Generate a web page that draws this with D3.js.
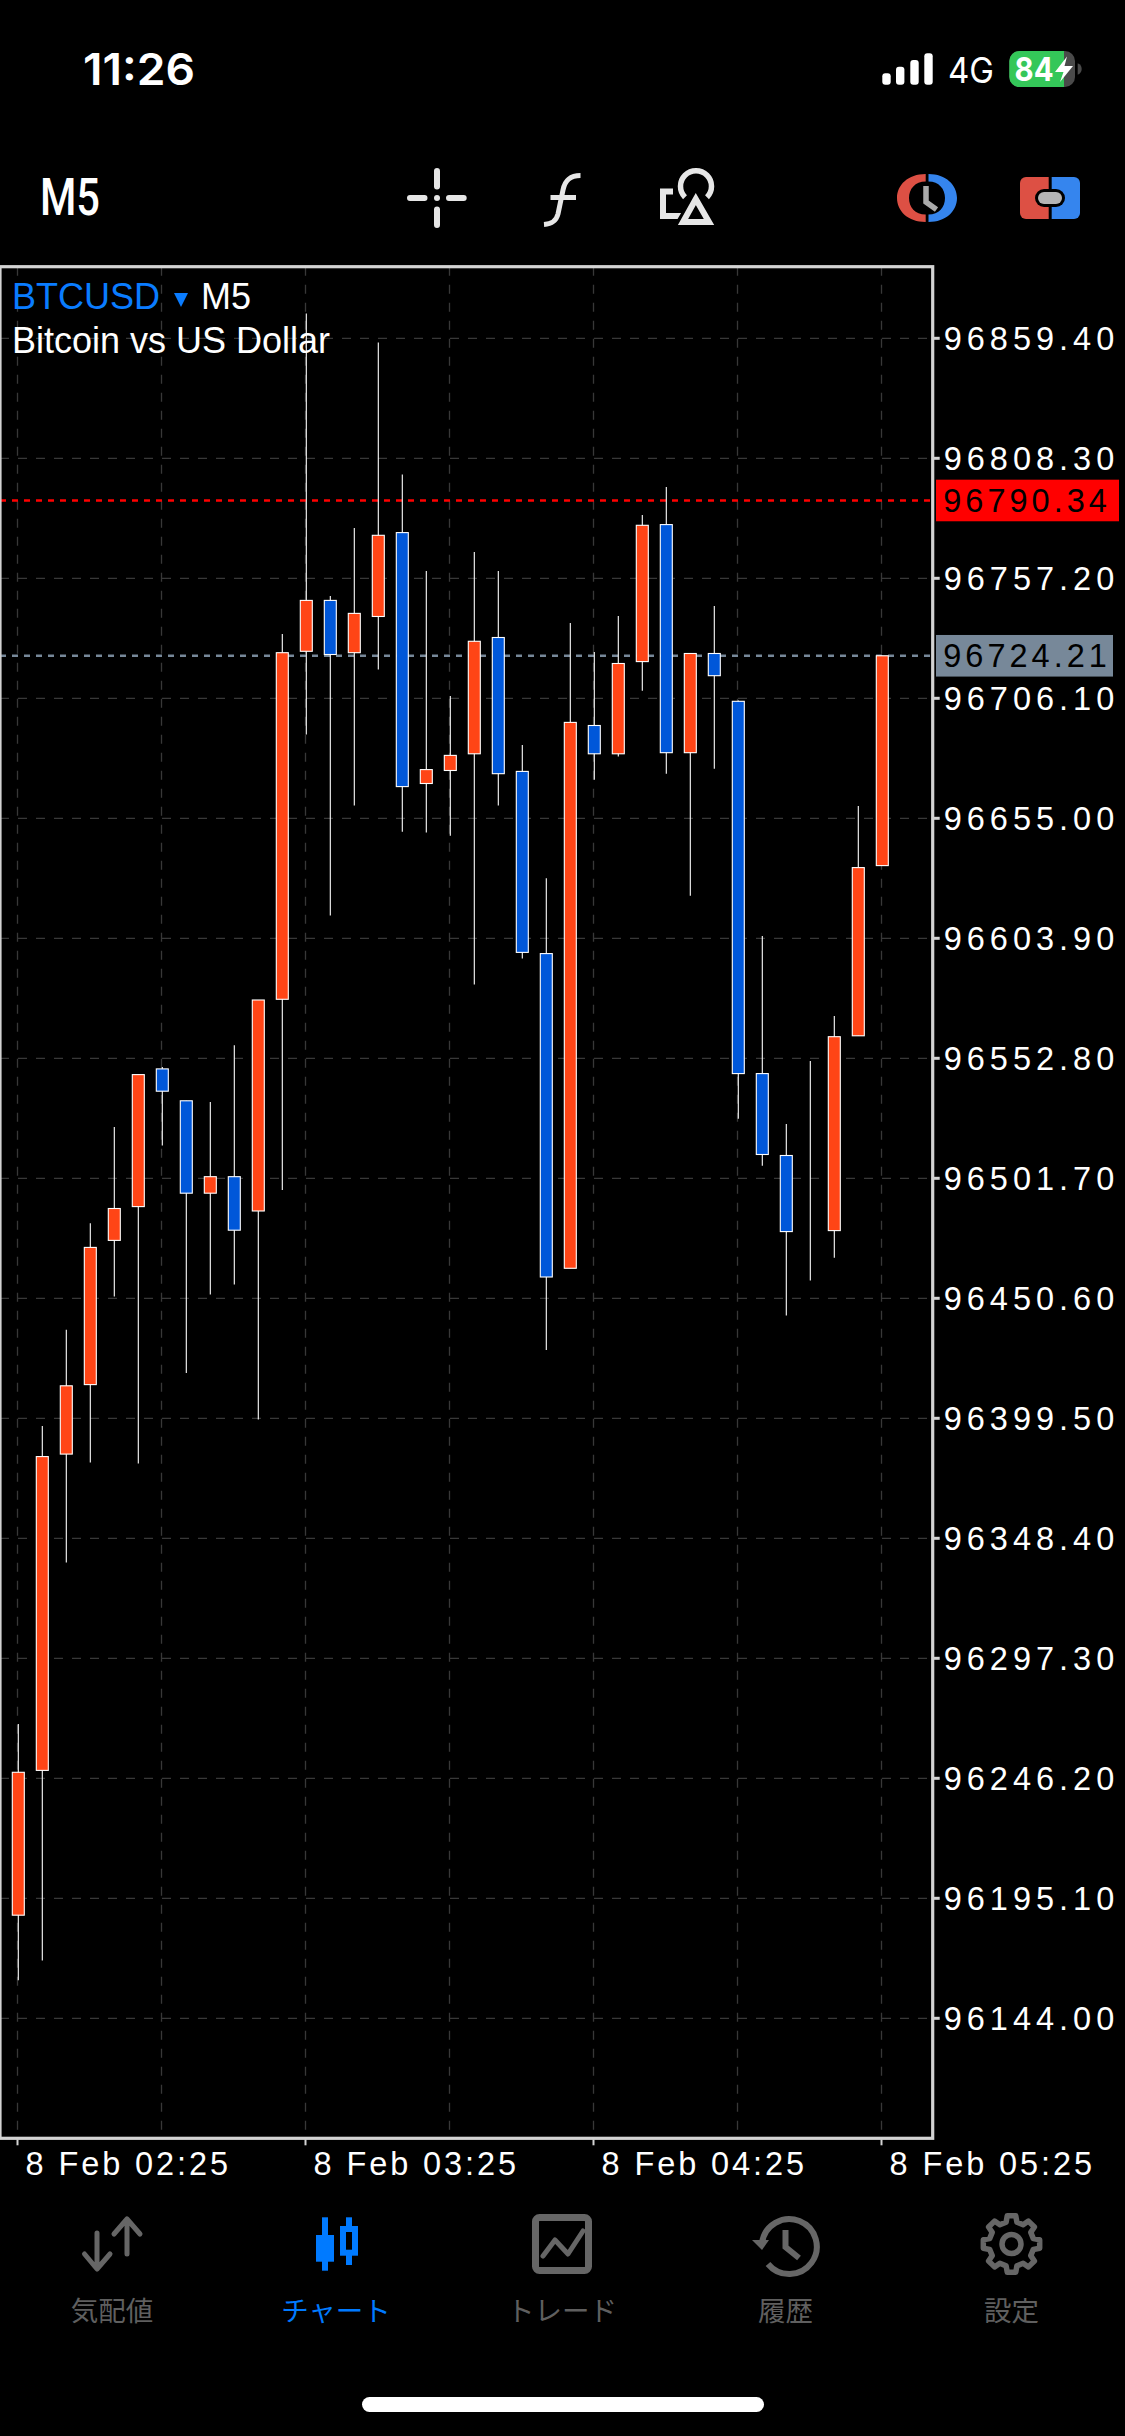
<!DOCTYPE html>
<html><head><meta charset="utf-8">
<style>
html,body{margin:0;padding:0;background:#000;overflow:hidden}
svg{display:block}
.sans{font-family:"Liberation Sans",Arimo,sans-serif}
.axis text{font-family:"Liberation Sans",sans-serif;font-size:32.5px;fill:#fff}
.yaxis text{letter-spacing:5px}
.xaxis text{letter-spacing:2.9px}
.tab{font-family:"Noto Sans CJK JP",sans-serif;font-size:27.5px;text-anchor:middle}
</style>
<script src="https://cdn.jsdelivr.net/npm/d3@7/dist/d3.min.js"></script>
</head><body><div id="c"></div>
<script>
const times=["02:25","02:30","02:35","02:40","02:45","02:50","02:55","03:00","03:05","03:10","03:15","03:20","03:25","03:30","03:35","03:40","03:45","03:50","03:55","04:00","04:05","04:10","04:15","04:20","04:25","04:30","04:35","04:40","04:45","04:50","04:55","05:00","05:05","05:10","05:15","05:20","05:25"];
const opens=[96187.91,96249.57,96384.26,96413.85,96475.26,96489.65,96548.29,96534.71,96495.36,96502.39,96487.78,96577.93,96726.12,96747.79,96725.52,96740.94,96776.66,96669.82,96675.36,96682.47,96731.99,96674.97,96597.39,96463.38,96694.52,96682.47,96721.73,96780.07,96682.94,96725.18,96704.82,96546.29,96511.41,96479.43,96479.43,96562.39,96634.86];
const highs=[96269.37,96396.23,96437.23,96482.58,96523.59,96545.86,96549.10,96534.71,96534.20,96558.34,96577.63,96733.52,96870.00,96749.67,96778.58,96857.66,96801.36,96760.31,96707.08,96768.36,96760.35,96686.22,96629.49,96738.21,96725.82,96741.15,96784.16,96796.04,96725.18,96745.36,96705.20,96604.93,96524.83,96551.65,96570.86,96660.24,96724.21];
const lows=[96160.23,96168.62,96338.10,96380.72,96451.32,96380.21,96515.71,96418.75,96452.18,96456.52,96398.95,96496.72,96690.73,96613.57,96660.50,96718.33,96649.30,96648.91,96647.59,96584.19,96660.46,96595.26,96428.59,96463.38,96671.40,96681.32,96709.34,96674.00,96622.00,96676.12,96527.08,96507.07,96443.28,96458.14,96467.85,96562.39,96634.86];
const closes=[96248.76,96383.20,96413.34,96472.27,96488.84,96545.86,96538.79,96495.36,96502.39,96479.60,96577.63,96725.52,96747.79,96724.75,96742.26,96775.51,96668.50,96675.74,96681.79,96730.38,96674.00,96597.90,96459.67,96695.84,96682.47,96720.92,96779.77,96682.94,96725.18,96715.73,96546.29,96511.84,96479.01,96479.43,96562.00,96634.01,96724.21];
const priceTicks=[96859.40,96808.30,96757.20,96706.10,96655.00,96603.90,96552.80,96501.70,96450.60,96399.50,96348.40,96297.30,96246.20,96195.10,96144.00];
const timeTicks=["02:25","03:25","04:25","05:25"];
const gridTimes=["02:25","02:55","03:25","03:55","04:25","04:55","05:25"];
const askPrice=96790.34, bidPrice=96724.21;
const tabs=["気配値","チャート","トレード","履歴","設定"];

const candles=times.map((t,i)=>({t,o:opens[i],h:highs[i],l:lows[i],c:closes[i]}));
const W=1125,H=2436;
const svg=d3.select("#c").append("svg").attr("width",W).attr("height",H).attr("viewBox",`0 0 ${W} ${H}`);
svg.append("rect").attr("width",W).attr("height",H).attr("fill","#000");

const frame={l:0,t:266.7,r:932.7,b:2138.3};
const x=d3.scalePoint().domain(times).range([18.3,882.3]);
const y=d3.scaleLinear().domain([96859.4,96144]).range([338.3,2018.3]);

// grid
const grid=svg.append("g");
grid.selectAll(".h").data(priceTicks).join("line").attr("x1",0).attr("x2",930)
 .attr("y1",d=>y(d)).attr("y2",d=>y(d)).attr("stroke","#383838").attr("stroke-width",1.3)
 .attr("stroke-dasharray","9 9");
grid.selectAll(".v").data(gridTimes).join("line").attr("x1",d=>x(d)-0.8).attr("x2",d=>x(d)-0.8)
 .attr("y1",frame.t).attr("y2",2132).attr("stroke","#383838").attr("stroke-width",1.3)
 .attr("stroke-dasharray","9 9");

// ask / bid lines
[[askPrice,"#ff0000"],[bidPrice,"#778899"]].forEach(([p,col])=>{
 svg.append("line").attr("x1",0).attr("x2",930).attr("y1",y(p)).attr("y2",y(p))
  .attr("stroke",col).attr("stroke-width",2.4).attr("stroke-dasharray","6 6");
});

// candles
const gc=svg.append("g").selectAll("g").data(candles).join("g");
gc.append("line").attr("x1",d=>x(d.t)).attr("x2",d=>x(d.t)).attr("y1",d=>y(d.h)).attr("y2",d=>y(d.l))
 .attr("stroke","#fff").attr("stroke-width",1.1);
gc.append("rect").attr("x",d=>x(d.t)-6).attr("width",12)
 .attr("y",d=>y(Math.max(d.o,d.c))).attr("height",d=>Math.abs(y(d.o)-y(d.c)))
 .attr("fill",d=>d.c>=d.o?"#ff4516":"#0057d9").attr("stroke","#fff").attr("stroke-width",1.1);

// frame
svg.append("rect").attr("x",frame.l).attr("y",frame.t).attr("width",frame.r-frame.l).attr("height",frame.b-frame.t)
 .attr("fill","none").attr("stroke","#d3d3d3").attr("stroke-width",3.2);

// price axis
const yAxis=svg.append("g").attr("class","axis yaxis").attr("transform",`translate(${frame.r+1},0)`)
 .call(d3.axisRight(y).tickValues(priceTicks).tickFormat(d3.format(".2f")).tickSize(6).tickPadding(4).offset(0));
yAxis.select(".domain").remove();
yAxis.selectAll(".tick line").attr("stroke","#d3d3d3").attr("stroke-width",3);
yAxis.selectAll(".tick text").attr("dy",null).attr("y",11.7);

// time axis
const xAxis=svg.append("g").attr("class","axis xaxis").attr("transform",`translate(-0.8,${frame.b+1})`)
 .call(d3.axisBottom(x).tickValues(timeTicks).tickFormat(d=>"8 Feb "+d).tickSize(6).offset(0));
xAxis.select(".domain").remove();
xAxis.selectAll(".tick line").attr("stroke","#d3d3d3").attr("stroke-width",2);
xAxis.selectAll(".tick text").attr("dy",null).attr("y",35.5).attr("x",8).attr("text-anchor","start");

// price tags
[[askPrice,"#ff0000",936,1119],[bidPrice,"#778899",936,1113]].forEach(([p,col,a,b])=>{
 svg.append("rect").attr("x",a).attr("y",y(p)-20.8).attr("width",b-a).attr("height",41.6).attr("fill",col);
 svg.append("text").attr("class","sans").attr("x",943.3).attr("y",y(p)+11.7).attr("font-size",32.5)
  .attr("letter-spacing",4).attr("fill","#000").text(d3.format(".2f")(p));
});

// chart titles
const t1=svg.append("text").attr("class","sans").attr("x",12).attr("y",309).attr("font-size",36);
t1.append("tspan").attr("fill","#0a7cff").text("BTCUSD");
svg.append("path").attr("d","M174 293H188L181 307Z").attr("fill","#0a7cff");
svg.append("text").attr("class","sans").attr("x",201).attr("y",309).attr("font-size",36).attr("fill","#fff").text("M5");
svg.append("text").attr("class","sans").attr("x",12).attr("y",353).attr("font-size",36).attr("fill","#fff").text("Bitcoin vs US Dollar");

// status bar
svg.append("text").attr("x",83).attr("y",85).attr("font-family","Inter").attr("font-weight",600).attr("font-size",44)
 .attr("fill","#fff").attr("textLength",112).attr("lengthAdjust","spacingAndGlyphs").text("11:26");
[[882.3,73.3],[896,66.7],[910.3,60],[924.3,53.3]].forEach(([a,b])=>{
 svg.append("rect").attr("x",a).attr("y",b).attr("width",8.4).attr("height",84.7-b).attr("rx",3).attr("fill","#fff");
});
svg.append("text").attr("x",948).attr("y",83.3).attr("font-family","Inter").attr("font-size",36).attr("fill","#fff")
 .attr("textLength",46).attr("lengthAdjust","spacingAndGlyphs").text("4G");
svg.append("rect").attr("x",1009.3).attr("y",51).attr("width",65.7).attr("height",36).attr("rx",10).attr("fill","#4a4a4a");
svg.append("path").attr("d","M1064 51H1019.3A10 10 0 0 0 1009.3 61V77A10 10 0 0 0 1019.3 87H1064Z").attr("fill","#34c759");
svg.append("path").attr("d","M1077.7 63.3C1080.5 64.5 1081.7 66.5 1081.7 69C1081.7 71.5 1080.5 73.5 1077.7 74.7Z").attr("fill","#4a4a4a");
svg.append("text").attr("x",1014.5).attr("y",81).attr("font-family","Inter").attr("font-weight",700).attr("font-size",33)
 .attr("fill","#fff").attr("textLength",39).attr("lengthAdjust","spacingAndGlyphs").text("84");
svg.append("path").attr("d","M1067 56.5L1055 72H1063.5L1060 82L1073 66H1064.5Z").attr("fill","#fff");

// toolbar
svg.append("text").attr("x",40).attr("y",214.5).attr("font-family","Roboto").attr("font-weight",500).attr("font-size",52)
 .attr("fill","#fff").attr("textLength",60).attr("lengthAdjust","spacingAndGlyphs").text("M5");
const ic="#e6e6e6";
const tb=svg.append("g").attr("stroke",ic).attr("fill","none").attr("stroke-linecap","round");
tb.append("path").attr("stroke-width",6).attr("d","M410 198H424.5M449 198H463.7M437 171V186.5M437 209.5V225");
tb.append("circle").attr("cx",437).attr("cy",198).attr("r",3).attr("fill",ic).attr("stroke","none");
tb.append("path").attr("stroke-width",5).attr("stroke-linecap","butt").attr("d","M580.5 175.5C570 175.5 565 180 563 190L558 214C556 222 551 224 544 224.5");
tb.append("path").attr("stroke-width",5).attr("stroke-linecap","butt").attr("d","M550.5 197.5H576");
tb.append("path").attr("stroke-width",5.5).attr("stroke-linecap","butt").attr("d","M685 197.2A15.5 15.5 0 1 1 707 197.2");
tb.append("path").attr("stroke-width",6).attr("stroke-linecap","butt").attr("d","M673 191.5H663V216H681");
tb.append("path").attr("stroke","#000").attr("stroke-width",3).attr("fill","none").attr("d","M695.8 191L674 228H718Z");
tb.append("path").attr("stroke",ic).attr("stroke-width",6).attr("stroke-linejoin","miter").attr("stroke-linecap","butt").attr("d","M695.8 199L683 222H709Z");

// clock icon
const red="#dd5044",blue="#3585ee";
svg.append("path").attr("fill",red).attr("d","M925.7 174C908 174 897 185 897 198C897 211 908 222 925.7 222V214.5C915 214.5 909 207 909 198C909 189 915 181.5 925.7 181.5Z");
svg.append("path").attr("fill",blue).attr("d","M928.5 174C946 174 957 185 957 198C957 211 946 222 928.5 222V214.5C939 214.5 945 207 945 198C945 189 939 181.5 928.5 181.5Z");
svg.append("path").attr("fill","none").attr("stroke","#aaa").attr("stroke-width",5.5).attr("d","M926 186V202L936.5 209.5");
// mode icon
svg.append("path").attr("fill",red).attr("d","M1048.7 177H1026A6 6 0 0 0 1020 183V213A6 6 0 0 0 1026 219H1048.7Z");
svg.append("path").attr("fill",blue).attr("d","M1051.7 177H1074A6 6 0 0 1 1080 183V213A6 6 0 0 1 1074 219H1051.7Z");
svg.append("rect").attr("x",1035).attr("y",189).attr("width",30).attr("height",18).attr("rx",9).attr("fill","#000");
svg.append("rect").attr("x",1038).attr("y",192).attr("width",24).attr("height",12).attr("rx",6).attr("fill","#b4b4b4");

// tab bar
const grey="#666",act="#007aff";
const cx=[112,336,562,785.5,1011.5];
tabs.forEach((s,i)=>{
 svg.append("text").attr("class","tab").attr("x",cx[i]).attr("y",2321).attr("fill",i===1?act:"#5f5f5f").text(s);
});
const g0=svg.append("g").attr("fill","none").attr("stroke",grey).attr("stroke-width",5).attr("stroke-linecap","round").attr("stroke-linejoin","round");
g0.append("path").attr("d","M127 2254V2220M114 2234L127 2219L140 2234M97 2233V2267M84.5 2254L97 2269L110 2254");
const g1=svg.append("g").attr("fill",act);
g1.append("rect").attr("x",322).attr("y",2217.3).attr("width",6).attr("height",53.4);
g1.append("rect").attr("x",316).attr("y",2235).attr("width",18).attr("height",26.7);
g1.append("rect").attr("x",346).attr("y",2217.3).attr("width",6).attr("height",47.7);
g1.append("rect").attr("x",340).attr("y",2226).attr("width",18).attr("height",29.7);
g1.append("rect").attr("x",346).attr("y",2232).attr("width",6).attr("height",17.7).attr("fill","#000");
const g2=svg.append("g").attr("fill","none").attr("stroke",grey).attr("stroke-linejoin","round");
g2.append("rect").attr("x",535.5).attr("y",2217.5).attr("width",53).attr("height",53).attr("rx",4).attr("stroke-width",7);
g2.append("path").attr("stroke-width",5).attr("stroke-linecap","round").attr("d","M543 2256L555 2240L568 2254L583 2231");
const g3=svg.append("g").attr("fill","none").attr("stroke",grey).attr("stroke-width",6);
g3.append("path").attr("d","M762 2243A27.5 27.5 0 1 1 768 2264");
g3.append("path").attr("d","M785.5 2230V2247L799 2258");
svg.append("path").attr("fill",grey).attr("d","M752 2240H769L762 2250Z");
// gear
const gearPts=[];
const teeth=8,rO=28.5,rI=22.5;
for(let k=0;k<teeth;k++){
 const a=k*2*Math.PI/teeth-Math.PI/2, w=Math.PI/teeth;
 [[-0.62*w,rI],[-0.38*w,rO],[0.38*w,rO],[0.62*w,rI]].forEach(([da,r])=>gearPts.push([1011.5+r*Math.cos(a+da),2244+r*Math.sin(a+da)]));
}
svg.append("path").attr("d",d3.line()(gearPts)+"Z").attr("fill","none").attr("stroke",grey).attr("stroke-width",5.5).attr("stroke-linejoin","round");
svg.append("circle").attr("cx",1011.5).attr("cy",2244).attr("r",9.5).attr("fill","none").attr("stroke",grey).attr("stroke-width",5.5);

// home indicator
svg.append("rect").attr("x",362).attr("y",2397).attr("width",402).attr("height",15).attr("rx",7.5).attr("fill","#fff");
</script></body></html>
